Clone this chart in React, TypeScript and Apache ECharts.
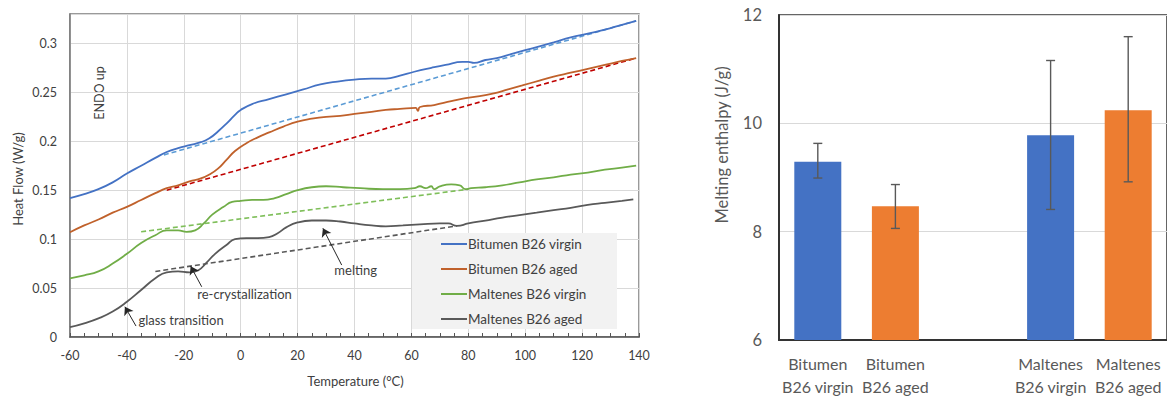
import React, { useEffect, useRef } from "react";
import * as echarts from "echarts";

// ---------- Left chart: DSC curves (Temperature °C, Heat Flow W/g) ----------
const bitumenVirgin: number[][] = [
  [-60, 0.142], [-55, 0.146], [-50, 0.151], [-45, 0.158], [-40, 0.167], [-35, 0.175],
  [-30, 0.183], [-26, 0.189], [-22, 0.193], [-18, 0.196], [-14, 0.199], [-11, 0.203],
  [-8, 0.21], [-5, 0.218], [-2, 0.227], [0, 0.232], [4, 0.238], [10, 0.243], [16, 0.248],
  [22, 0.253], [28, 0.258], [34, 0.261], [40, 0.263], [46, 0.264], [51, 0.264], [56, 0.267],
  [61, 0.271], [67, 0.275], [72, 0.278], [78, 0.281], [80, 0.281], [82, 0.28], [86, 0.283],
  [90, 0.285], [95, 0.289], [100, 0.293], [105, 0.297], [110, 0.301], [116, 0.306],
  [122, 0.31], [128, 0.314], [134, 0.319], [139, 0.323],
];
const bitumenAged: number[][] = [
  [-60, 0.107], [-55, 0.114], [-50, 0.12], [-45, 0.127], [-40, 0.133], [-35, 0.14],
  [-30, 0.147], [-26, 0.152], [-22, 0.155], [-18, 0.159], [-14, 0.162], [-11, 0.166],
  [-8, 0.172], [-5, 0.181], [-2, 0.19], [2, 0.198], [6, 0.204], [10, 0.209], [15, 0.215],
  [20, 0.22], [25, 0.223], [30, 0.225], [35, 0.226], [40, 0.228], [46, 0.23], [51, 0.232],
  [56, 0.233], [61.5, 0.234], [62.3, 0.231], [63, 0.235], [68, 0.237], [74, 0.241],
  [79, 0.244], [84, 0.246], [89, 0.249], [94, 0.253], [99, 0.257], [105, 0.262],
  [110, 0.266], [116, 0.27], [122, 0.274], [128, 0.278], [134, 0.282], [139, 0.285],
];
const maltenesVirgin: number[][] = [
  [-60, 0.06], [-55, 0.063], [-50, 0.067], [-45, 0.075], [-40, 0.085], [-35, 0.096],
  [-30, 0.104], [-26, 0.109], [-22, 0.109], [-19, 0.1075], [-16, 0.109], [-13, 0.116],
  [-10, 0.125], [-6, 0.133], [-3, 0.138], [0, 0.139], [4, 0.14], [8, 0.14], [12, 0.142],
  [16, 0.146], [20, 0.15], [25, 0.153], [30, 0.154], [36, 0.153], [42, 0.152], [50, 0.151],
  [56, 0.151], [61, 0.152], [63, 0.154], [65, 0.152], [67, 0.154], [68, 0.151], [70, 0.154],
  [74, 0.156], [77, 0.155], [79, 0.151], [81, 0.152], [86, 0.153], [92, 0.155], [98, 0.158],
  [104, 0.161], [110, 0.163], [116, 0.166], [122, 0.168], [128, 0.171], [134, 0.173],
  [139, 0.175],
];
const maltenesAged: number[][] = [
  [-60, 0.01], [-55, 0.014], [-50, 0.019], [-45, 0.026], [-40, 0.036], [-35, 0.048],
  [-30, 0.06], [-26, 0.066], [-22, 0.067], [-18, 0.066], [-15, 0.068], [-12, 0.076],
  [-9, 0.085], [-5, 0.094], [-2, 0.1], [2, 0.101], [6, 0.101], [10, 0.102], [13, 0.106],
  [16, 0.112], [20, 0.117], [25, 0.119], [30, 0.119], [35, 0.118], [40, 0.116], [46, 0.114],
  [51, 0.113], [57, 0.114], [63, 0.115], [70, 0.116], [73, 0.116], [76, 0.1135], [80, 0.116],
  [86, 0.119], [92, 0.122], [98, 0.1245], [104, 0.127], [110, 0.1296], [116, 0.132],
  [122, 0.135], [128, 0.137], [134, 0.139], [138, 0.1405],
];
// Baselines (dashed)
const baseBitumenVirgin: number[][] = [[-27, 0.186], [139, 0.323]];
const baseBitumenAged: number[][] = [[-26, 0.15], [139, 0.285]];
const baseMaltenesVirgin: number[][] = [[-35, 0.1075], [80, 0.151]];
const baseMaltenesAged: number[][] = [[-30, 0.067], [76, 0.1135]];

// Annotation arrows (tail -> head), in data coordinates
const arrowMelting: number[][] = [[35.5, 0.0735], [28.9, 0.111]];
const arrowRecryst: number[][] = [[-13.7, 0.0513], [-17.6, 0.0724]];
const arrowGlass: number[][] = [[-36.8, 0.0112], [-40.7, 0.0309]];

const lineNames = [
  "Bitumen B26 virgin",
  "Bitumen B26 aged",
  "Maltenes B26 virgin",
  "Maltenes B26 aged",
];

// ---------- Right chart: melting enthalpy ----------
const barCategories = [
  "Bitumen\nB26 virgin",
  "Bitumen\nB26 aged",
  "",
  "Maltenes\nB26 virgin",
  "Maltenes\nB26 aged",
];
const virginValues = [9.29, "-", "-", 9.78, "-"];
const agedValues = ["-", 8.47, "-", "-", 10.24];
const errLow = [8.99, 8.06, null, 8.41, 8.92];
const errHigh = [9.63, 8.87, null, 11.16, 11.6];

const FONT = "Lato";

export default function App() {
  const ref = useRef<HTMLDivElement>(null);

  useEffect(() => {
    if (!ref.current) return;
    const chart = echarts.init(ref.current, undefined, { renderer: "svg" });

    const errData = errLow
      .map((lo, i) => (lo == null ? null : [i, lo, errHigh[i]]))
      .filter((d) => d != null);

    const lineStyle = (color: string) => ({ color, width: 1.8 });
    const dashStyle = (color: string) => ({ color, width: 1.6, type: [5, 3] as any });

    const option: any = {
      animation: false,
      textStyle: { fontFamily: FONT },
      grid: [
        {
          left: 70, top: 14, width: 569, height: 323,
          show: true, borderColor: "#7a7a7a", borderWidth: 1.5, backgroundColor: "transparent",
        },
        {
          left: 779, top: 15, width: 397, height: 327,
          show: true, borderColor: "#333333", borderWidth: 1.5, backgroundColor: "transparent",
        },
      ],
      xAxis: [
        {
          type: "value", gridIndex: 0, min: -60, max: 140, interval: 20,
          axisLine: { show: true, onZero: false, lineStyle: { color: "#555555", width: 1.5 } },
          axisTick: { show: true, inside: true, length: 4, lineStyle: { color: "#555555" } },
          minorTick: { show: true, splitNumber: 4, length: 4, lineStyle: { color: "#555555" } },
          splitLine: { show: true, lineStyle: { color: "#d9d9d9", width: 1 } },
          axisLabel: { color: "#404040", fontSize: 12.5, margin: 12, fontFamily: FONT },
        },
        {
          type: "category", gridIndex: 1, data: barCategories, boundaryGap: true,
          axisLine: { show: true, onZero: false, lineStyle: { color: "#333333", width: 2 } },
          axisTick: { show: false },
          splitLine: { show: false },
          axisLabel: {
            color: "#595959", fontSize: 16, lineHeight: 23, margin: 12, fontFamily: FONT,
            interval: 0,
          },
        },
      ],
      yAxis: [
        {
          type: "value", gridIndex: 0, min: 0, max: 0.33, interval: 0.05,
          axisLine: { show: true, onZero: false, lineStyle: { color: "#7a7a7a", width: 1.5 } },
          axisTick: { show: false },
          splitLine: { show: true, lineStyle: { color: "#d9d9d9", width: 1 } },
          axisLabel: {
            color: "#404040", fontSize: 12.5, margin: 13, fontFamily: FONT,
            formatter: (v: number) =>
              Math.abs(v * 20 - Math.round(v * 20)) < 1e-6 ? String(Math.round(v * 100) / 100) : "",
          },
        },
        {
          type: "value", gridIndex: 1, min: 6, max: 12, interval: 2,
          axisLine: { show: true, onZero: false, lineStyle: { color: "#333333", width: 2 } },
          axisTick: { show: false },
          splitLine: { show: true, lineStyle: { color: "#d9d9d9", width: 1 } },
          axisLabel: { color: "#595959", fontSize: 16.5, margin: 17, fontFamily: FONT },
        },
      ],
      legend: {
        data: lineNames,
        orient: "vertical",
        left: 441, top: 236,
        padding: 0,
        itemGap: 9,
        itemWidth: 26, itemHeight: 2,
        icon: "rect",
        textStyle: { color: "#404040", fontSize: 13.5, lineHeight: 16, fontFamily: FONT, padding: [0, 0, 0, -4] },
        selectedMode: false,
      },
      series: [
        {
          name: lineNames[0], type: "line", xAxisIndex: 0, yAxisIndex: 0, data: bitumenVirgin,
          showSymbol: false, symbol: "none", smooth: 0.5,
          lineStyle: lineStyle("#4472C4"), itemStyle: { color: "#4472C4" }, z: 3,
        },
        {
          name: lineNames[1], type: "line", xAxisIndex: 0, yAxisIndex: 0, data: bitumenAged,
          showSymbol: false, symbol: "none", smooth: 0.5,
          lineStyle: lineStyle("#C0612B"), itemStyle: { color: "#C0612B" }, z: 3,
        },
        {
          name: lineNames[2], type: "line", xAxisIndex: 0, yAxisIndex: 0, data: maltenesVirgin,
          showSymbol: false, symbol: "none", smooth: 0.5,
          lineStyle: lineStyle("#70AD47"), itemStyle: { color: "#70AD47" }, z: 3,
        },
        {
          name: lineNames[3], type: "line", xAxisIndex: 0, yAxisIndex: 0, data: maltenesAged,
          showSymbol: false, symbol: "none", smooth: 0.5,
          lineStyle: lineStyle("#595959"), itemStyle: { color: "#595959" }, z: 3,
          markLine: {
            silent: true,
            symbol: ["none", "arrow"],
            symbolSize: 8,
            label: { show: false },
            lineStyle: { color: "#262626", width: 1, type: "solid" },
            data: [arrowMelting, arrowRecryst, arrowGlass].map((a) => [
              { coord: a[0] },
              { coord: a[1] },
            ]),
          },
        },
        {
          name: "baseline BV", type: "line", xAxisIndex: 0, yAxisIndex: 0, data: baseBitumenVirgin,
          showSymbol: false, symbol: "none", lineStyle: dashStyle("#5B9BD5"), z: 2,
        },
        {
          name: "baseline BA", type: "line", xAxisIndex: 0, yAxisIndex: 0, data: baseBitumenAged,
          showSymbol: false, symbol: "none", lineStyle: dashStyle("#C00000"), z: 2,
        },
        {
          name: "baseline MV", type: "line", xAxisIndex: 0, yAxisIndex: 0, data: baseMaltenesVirgin,
          showSymbol: false, symbol: "none", lineStyle: dashStyle("#7FBF5A"), z: 2,
        },
        {
          name: "baseline MA", type: "line", xAxisIndex: 0, yAxisIndex: 0, data: baseMaltenesAged,
          showSymbol: false, symbol: "none", lineStyle: dashStyle("#595959"), z: 2,
        },
        {
          name: "virgin", type: "bar", xAxisIndex: 1, yAxisIndex: 1, data: virginValues,
          barWidth: 47, barGap: "-100%", itemStyle: { color: "#4472C4" },
        },
        {
          name: "aged", type: "bar", xAxisIndex: 1, yAxisIndex: 1, data: agedValues,
          barWidth: 47, barGap: "-100%", itemStyle: { color: "#ED7D31" },
        },
        {
          name: "error", type: "custom", xAxisIndex: 1, yAxisIndex: 1, data: errData,
          encode: { x: 0, y: [1, 2] }, z: 5,
          renderItem: (params: any, api: any) => {
            const i = api.value(0);
            const lo = api.coord([i, api.value(1)]);
            const hi = api.coord([i, api.value(2)]);
            const cap = 4.5;
            const style = { stroke: "#595959", lineWidth: 1.4 };
            return {
              type: "group",
              children: [
                { type: "line", shape: { x1: lo[0], y1: lo[1], x2: hi[0], y2: hi[1] }, style },
                { type: "line", shape: { x1: hi[0] - cap, y1: hi[1], x2: hi[0] + cap, y2: hi[1] }, style },
                { type: "line", shape: { x1: lo[0] - cap, y1: lo[1], x2: lo[0] + cap, y2: lo[1] }, style },
              ],
            };
          },
        },
      ],
      graphic: [
        {
          type: "rect", z: 1, silent: true,
          shape: { x: 412, y: 233, width: 205, height: 96 },
          style: { fill: "#F2F2F2" },
        },
        {
          type: "text", x: 18, y: 179, rotation: Math.PI / 2,
          style: { text: "Heat Flow (W/g)", fill: "#404040", font: `13px ${FONT}`, align: "center", verticalAlign: "middle" },
        },
        {
          type: "text", x: 355.5, y: 381,
          style: { text: "Temperature (°C)", fill: "#404040", font: `13px ${FONT}`, align: "center", verticalAlign: "middle" },
        },
        {
          type: "text", x: 99.5, y: 93, rotation: Math.PI / 2,
          style: { text: "ENDO up", fill: "#404040", font: `12.5px ${FONT}`, align: "center", verticalAlign: "middle" },
        },
        {
          type: "text", x: 355.7, y: 270, z: 10,
          style: { text: "melting", fill: "#404040", font: `13px ${FONT}`, align: "center", verticalAlign: "middle" },
        },
        {
          type: "text", x: 244.5, y: 294, z: 10,
          style: { text: "re-crystallization", fill: "#404040", font: `13px ${FONT}`, align: "center", verticalAlign: "middle" },
        },
        {
          type: "text", x: 181, y: 320, z: 10,
          style: { text: "glass transition", fill: "#404040", font: `13px ${FONT}`, align: "center", verticalAlign: "middle" },
        },
        {
          type: "text", x: 722, y: 145, rotation: Math.PI / 2,
          style: { text: "Melting enthalpy (J/g)", fill: "#595959", font: `16.5px ${FONT}`, align: "center", verticalAlign: "middle" },
        },
      ],
    };

    chart.setOption(option);
    return () => chart.dispose();
  }, []);

  return (
    <div
      ref={ref}
      style={{ position: "fixed", left: 0, top: 0, width: 1167, height: 398, background: "#ffffff" }}
    />
  );
}
